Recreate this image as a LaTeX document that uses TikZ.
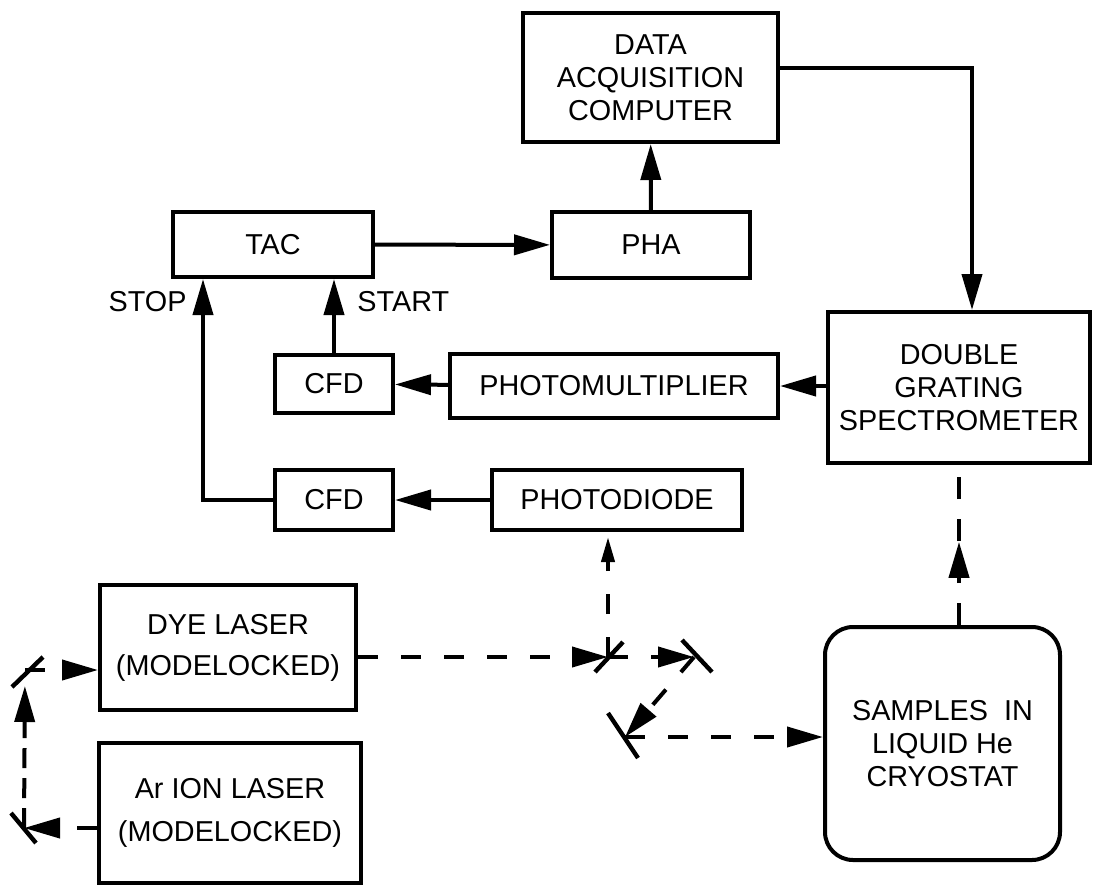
\documentclass[tikz,border=0pt]{standalone}
\usepackage{fontspec}
\setmainfont{Liberation Sans}
\usetikzlibrary{arrows.meta, decorations.markings}

\begin{document}
\begin{tikzpicture}[
  x=0.5pt, y=-0.5pt,
  font=\fontsize{14.4}{16.5}\selectfont,
  box/.style={rectangle, draw, line width=2pt, align=center, inner sep=0pt},
  rbox/.style={box, rounded corners=14pt},
  arr/.style={-{Triangle[length=18pt,width=10pt]}, line width=2pt},
  beam/.style={arr, dash pattern=on 10pt off 11.5pt},
  smallarr/.style={-{Triangle[length=12.5pt,width=6.5pt]}, line width=2pt, dash pattern=on 10pt off 11.5pt},
  midarr/.style={postaction={decorate}, decoration={markings,
      mark=at position 0.52 with {\arrow{Triangle[length=18pt,width=10pt]}}}},
  mirror/.style={line width=2.2pt},
  lbl/.style={inner sep=0pt},
]
\useasboundingbox (0,0) rectangle (1093,885);

% ---- Electronics ----
\node[box, minimum width=127.5pt, minimum height=64.5pt] (dac) at (650.5,77.5)
   {DATA\\ACQUISITION\\COMPUTER};
\node[box, minimum width=100pt, minimum height=32.5pt] (tac) at (273,244.5) {TAC};
\node[box, minimum width=99pt, minimum height=33pt] (pha) at (651,245) {PHA};
\node[box, minimum width=131pt, minimum height=75.5pt] (dgs) at (959,387.5)
   {DOUBLE\\GRATING\\SPECTROMETER};
\node[box, minimum width=59pt, minimum height=29pt] (cfdA) at (334,384) {CFD};
\node[box, minimum width=164pt, minimum height=32pt] (pm) at (614,386) {PHOTOMULTIPLIER};
\node[box, minimum width=59pt, minimum height=30pt] (cfdB) at (334,500) {CFD};
\node[box, minimum width=125pt, minimum height=30pt] (pd) at (617,500) {PHOTODIODE};

% ---- Lasers and sample ----
\node[box, minimum width=128pt, minimum height=62.5pt] (dye) at (228,647.5)
   {DYE LASER\\[4pt](MODELOCKED)};
\node[box, minimum width=131pt, minimum height=70pt] (ar) at (230,813)
   {Ar ION LASER\\[5pt](MODELOCKED)};
\node[rbox, minimum width=117.5pt, minimum height=116.5pt] (samp) at (942.5,743.5)
   {SAMPLES\ \ IN\\LIQUID He\\CRYOSTAT};

\node[lbl, anchor=east] (stop) at (187,302) {STOP};
\node[lbl, anchor=west] (start) at (357,302) {START};

% ---- Signal lines ----
\draw[arr] (tac) -- (pha);
\draw[arr] (pha) -- (dac);
\draw[arr] ([yshift=4.75pt]dac.east) -| ([xshift=6.5pt]dgs.north);
\draw[arr] (dgs.west |- pm) -- (pm);
\draw[arr] (pm) -- (cfdA);
\draw[arr] (cfdA) -- (cfdA |- tac.south);
\draw[arr] (pd) -- (cfdB);
\draw[arr] (cfdB.west) -| ([xshift=-35pt]tac.south);

% ---- Mirrors ----
\coordinate (m1) at (24,828);
\coordinate (m2) at (25,670);
\coordinate (bs) at (608,657);
\coordinate (m3) at (694,657);
\coordinate (m4) at (625,737);

\draw[mirror] (m1) ++(-13,-15) -- ++(25,30);
\draw[mirror] (m2) ++(-13,17) -- ++(31,-30);
\draw[mirror] (bs) ++(-13,15) -- ++(28,-30);
\draw[mirror] (m3) ++(-12,-17) -- ++(30,32);
\draw[mirror] (m4) ++(-17,-24) -- ++(30,45);

% ---- Light path ----
\draw[beam] (ar.west |- m1) -- (m1);
\draw[arr, dash pattern=on 10pt off 5pt, shorten >=8pt] (m1) -- (m2);
\draw[beam] (m2) -- (dye.west |- m2);
\draw[beam] (dye.east |- bs) -- (bs);
\draw[smallarr, shorten >=2.5pt] (bs) -- (bs |- pd.south);
\draw[beam] (bs) -- (m3);
\draw[beam] (m3) -- (m4);
\draw[beam] (m4) -- (samp.west |- m4);
\draw[line width=2pt, dash pattern=on 11pt off 10pt, midarr] (dgs.south |- samp.north) -- (dgs.south);

\end{tikzpicture}
\end{document}
